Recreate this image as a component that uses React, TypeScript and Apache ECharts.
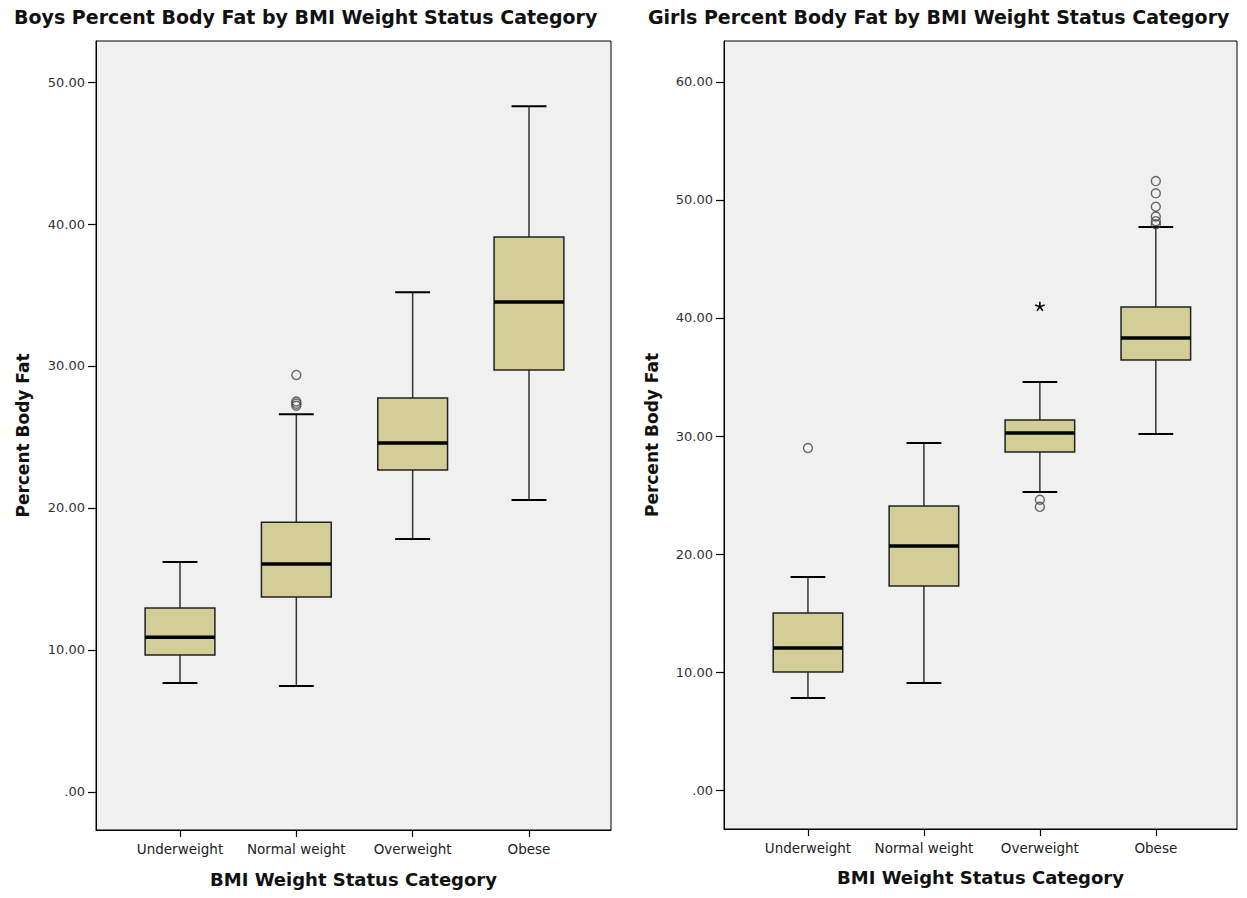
import React, { useEffect, useRef } from "react";
import * as echarts from "echarts";

const CATEGORIES = ["Underweight", "Normal weight", "Overweight", "Obese"];

// [category index, lower whisker, Q1, median, Q3, upper whisker]
const BOYS_BOX = [
  [0, 7.68, 9.65, 10.9, 12.96, 16.2],
  [1, 7.46, 13.73, 16.06, 19.0, 26.6],
  [2, 17.82, 22.68, 24.58, 27.75, 35.2],
  [3, 20.56, 29.72, 34.5, 39.08, 48.3],
];
const BOYS_OUTLIERS = [
  [1, 29.37],
  [1, 27.5],
  [1, 27.35],
  [1, 27.2],
];
const BOYS_EXTREMES: number[][] = [];

const GIRLS_BOX = [
  [0, 7.8, 10.0, 12.03, 15.0, 18.05],
  [1, 9.07, 17.29, 20.68, 24.07, 29.4],
  [2, 25.25, 28.64, 30.25, 31.36, 34.58],
  [3, 30.17, 36.44, 38.3, 40.93, 47.7],
];
const GIRLS_OUTLIERS = [
  [0, 28.98],
  [2, 24.6],
  [2, 24.0],
  [3, 51.6],
  [3, 50.56],
  [3, 49.43],
  [3, 48.6],
  [3, 48.2],
  [3, 47.95],
];
const GIRLS_EXTREMES = [[2, 40.96]];

const BOYS_Y_TICKS = [0, 10, 20, 30, 40, 50];
const GIRLS_Y_TICKS = [0, 10, 20, 30, 40, 50, 60];
const X_TICKS = [0, 1, 2, 3];

const FONT = "DejaVu Sans";
const BOX_FILL = "#d3ce97";

function fmtY(v: number) {
  if (v === 0) return ".00";
  return v.toFixed(2);
}

function renderBox(params: any, api: any) {
  const x = api.value(0);
  const lo = api.coord([x, api.value(1)]);
  const q1 = api.coord([x, api.value(2)]);
  const med = api.coord([x, api.value(3)]);
  const q3 = api.coord([x, api.value(4)]);
  const hi = api.coord([x, api.value(5)]);
  const bw = api.size([0.6, 0])[0];
  const cw = api.size([0.3, 0])[0];
  const cx = lo[0];
  const lineStyle = { stroke: "#333", lineWidth: 1.5 };
  const capStyle = { stroke: "#000", lineWidth: 2 };
  return {
    type: "group",
    children: [
      { type: "line", shape: { x1: cx, y1: lo[1], x2: cx, y2: q1[1] }, style: lineStyle },
      { type: "line", shape: { x1: cx, y1: q3[1], x2: cx, y2: hi[1] }, style: lineStyle },
      { type: "line", shape: { x1: cx - cw / 2, y1: lo[1], x2: cx + cw / 2, y2: lo[1] }, style: capStyle },
      { type: "line", shape: { x1: cx - cw / 2, y1: hi[1], x2: cx + cw / 2, y2: hi[1] }, style: capStyle },
      {
        type: "rect",
        shape: { x: cx - bw / 2, y: q3[1], width: bw, height: q1[1] - q3[1] },
        style: { fill: BOX_FILL, stroke: "#222", lineWidth: 1.5 },
      },
      { type: "line", shape: { x1: cx - bw / 2, y1: med[1], x2: cx + bw / 2, y2: med[1] }, style: { stroke: "#000", lineWidth: 3.5 } },
    ],
  };
}

function renderStar(params: any, api: any) {
  const p = api.coord([api.value(0), api.value(1)]);
  const r = 5;
  const children: any[] = [];
  for (let k = 0; k < 5; k++) {
    const a = -Math.PI / 2 + (k * 2 * Math.PI) / 5;
    children.push({
      type: "line",
      shape: { x1: p[0], y1: p[1], x2: p[0] + r * Math.cos(a), y2: p[1] + r * Math.sin(a) },
      style: { stroke: "#000", lineWidth: 1.6 },
    });
  }
  return { type: "group", children };
}

function makeXAxis(gridIndex: number, min: number, max: number, gap: number) {
  return {
    type: "value",
    gridIndex,
    min,
    max,
    splitLine: { show: false },
    axisLine: { show: true, onZero: false, lineStyle: { color: "#000", width: 1 } },
    axisTick: { show: true, customValues: X_TICKS, length: 7, lineStyle: { color: "#000", width: 1.2 } },
    axisLabel: {
      customValues: X_TICKS,
      formatter: (v: number) => CATEGORIES[Math.round(v)] || "",
      color: "#222",
      fontFamily: FONT,
      fontSize: 13.5,
      margin: 12,
    },
    name: "BMI Weight Status Category",
    nameLocation: "middle",
    nameGap: gap,
    nameTextStyle: { fontFamily: FONT, fontWeight: "bold", fontSize: 18, color: "#111" },
  };
}

function makeYAxis(gridIndex: number, min: number, max: number, ticks: number[], gap: number) {
  return {
    type: "value",
    gridIndex,
    min,
    max,
    splitLine: { show: false },
    axisLine: { show: true, onZero: false, lineStyle: { color: "#000", width: 1 } },
    axisTick: { show: true, customValues: ticks, length: 8, lineStyle: { color: "#000", width: 1.2 } },
    axisLabel: {
      customValues: ticks,
      formatter: (v: number) => fmtY(v),
      color: "#333",
      fontFamily: FONT,
      fontSize: 13,
      margin: 11,
    },
    name: "Percent Body Fat",
    nameLocation: "middle",
    nameGap: gap,
    nameTextStyle: { fontFamily: FONT, fontWeight: "bold", fontSize: 17, color: "#111" },
  };
}

function seriesFor(idx: number, box: number[][], outliers: number[][], extremes: number[][]) {
  return [
    {
      type: "custom",
      xAxisIndex: idx,
      yAxisIndex: idx,
      renderItem: renderBox,
      data: box,
      encode: { x: 0, y: [1, 2, 3, 4, 5] },
      z: 2,
    },
    {
      type: "scatter",
      xAxisIndex: idx,
      yAxisIndex: idx,
      data: outliers,
      symbol: "circle",
      symbolSize: 9,
      itemStyle: { color: "rgba(0,0,0,0)", borderColor: "#444", borderWidth: 1.4 },
      z: 3,
    },
    {
      type: "custom",
      xAxisIndex: idx,
      yAxisIndex: idx,
      renderItem: renderStar,
      data: extremes,
      z: 3,
    },
  ];
}

export default function App() {
  const ref = useRef<HTMLDivElement>(null);
  useEffect(() => {
    if (!ref.current) return;
    const chart = echarts.init(ref.current, undefined, { renderer: "svg" });
    const option: any = {
      animation: false,
      backgroundColor: "#fff",
      title: [
        {
          text: "Boys Percent Body Fat by BMI Weight Status Category",
          left: 14,
          top: 7,
          padding: 0,
          textStyle: { fontFamily: FONT, fontWeight: "bold", fontSize: 19, color: "#111" },
        },
        {
          text: "Girls Percent Body Fat by BMI Weight Status Category",
          left: 648,
          top: 7,
          padding: 0,
          textStyle: { fontFamily: FONT, fontWeight: "bold", fontSize: 19, color: "#111" },
        },
      ],
      grid: [
        { left: 96, top: 41, width: 515, height: 789, show: true, backgroundColor: "#f0f0f0", borderColor: "#000", borderWidth: 1 },
        { left: 724, top: 41, width: 513, height: 788, show: true, backgroundColor: "#f0f0f0", borderColor: "#000", borderWidth: 1 },
      ],
      xAxis: [makeXAxis(0, -0.722, 3.705, 40), makeXAxis(1, -0.724, 3.70, 39)],
      yAxis: [
        makeYAxis(0, -2.68, 52.89, BOYS_Y_TICKS, 65),
        makeYAxis(1, -3.3, 63.47, GIRLS_Y_TICKS, 64),
      ],
      series: [
        ...seriesFor(0, BOYS_BOX, BOYS_OUTLIERS, BOYS_EXTREMES),
        ...seriesFor(1, GIRLS_BOX, GIRLS_OUTLIERS, GIRLS_EXTREMES),
      ],
    };
    chart.setOption(option);
    return () => chart.dispose();
  }, []);
  return (
    <div
      ref={ref}
      style={{ position: "absolute", left: 0, top: 0, width: 1247, height: 898, background: "#fff" }}
    />
  );
}
